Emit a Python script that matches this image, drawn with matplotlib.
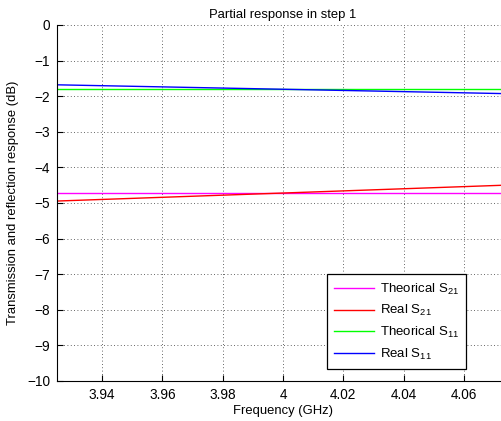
import matplotlib
matplotlib.use("Agg")
import matplotlib.pyplot as plt
import numpy as np

plt.rcParams['font.family'] = ['Liberation Sans', 'DejaVu Sans']
plt.rcParams['mathtext.default'] = 'regular'

freq = [3.925, 4.075]
theo_s21 = [-4.72, -4.72]
real_s21 = [-4.945, -4.495]
theo_s11 = [-1.80, -1.80]
real_s11 = [-1.68, -1.93]

labels = ['Theorical S$_{21}$', 'Real S$_{21}$', 'Theorical S$_{11}$', 'Real S$_{11}$']
colors = ['#ff00ff', '#ff0000', '#00ff00', '#0000ff']
xticks = [3.94, 3.96, 3.98, 4.0, 4.02, 4.04, 4.06]
xticklabels = ['3.94', '3.96', '3.98', '4', '4.02', '4.04', '4.06']
yticks = list(range(-10, 1))

fig = plt.figure(figsize=(5.02, 4.21), dpi=100)
ax = fig.add_axes([57/502, 40/421, 452/502, 356/421])

series = [theo_s21, real_s21, theo_s11, real_s11]
for ys, lab, c in zip(series, labels, colors):
    ax.plot(freq, ys, color=c, lw=1.0, label=lab)

ax.set_xlim(3.925, 4.075)
ax.set_ylim(-10, 0)
ax.set_xticks(xticks)
ax.set_xticklabels(xticklabels)
ax.set_yticks(yticks)
ax.tick_params(direction='in', length=4, width=0.8, labelsize=9.8, pad=5)
ax.grid(True, linestyle=(0, (1, 3)), color='black', lw=0.6, alpha=0.8)
ax.spines['top'].set_visible(False)
ax.spines['right'].set_visible(False)
ax.spines['left'].set_linewidth(0.8)
ax.spines['bottom'].set_linewidth(0.8)

ax.set_title('Partial response in step 1', fontsize=9.4, pad=5)
ax.set_xlabel('Frequency (GHz)', fontsize=9.4, labelpad=2)
ax.set_ylabel('Transmission and reflection response (dB)', fontsize=9.4, labelpad=6)

leg = ax.legend(loc='lower left', bbox_to_anchor=(0.597, 0.034), fontsize=9.5,
                frameon=True, fancybox=False, edgecolor='black', framealpha=1,
                handlelength=3.0, handletextpad=0.45, labelspacing=0.5,
                borderpad=0.55, borderaxespad=0)
leg.get_frame().set_linewidth(0.9)

fig.savefig('out.png', dpi=100)
